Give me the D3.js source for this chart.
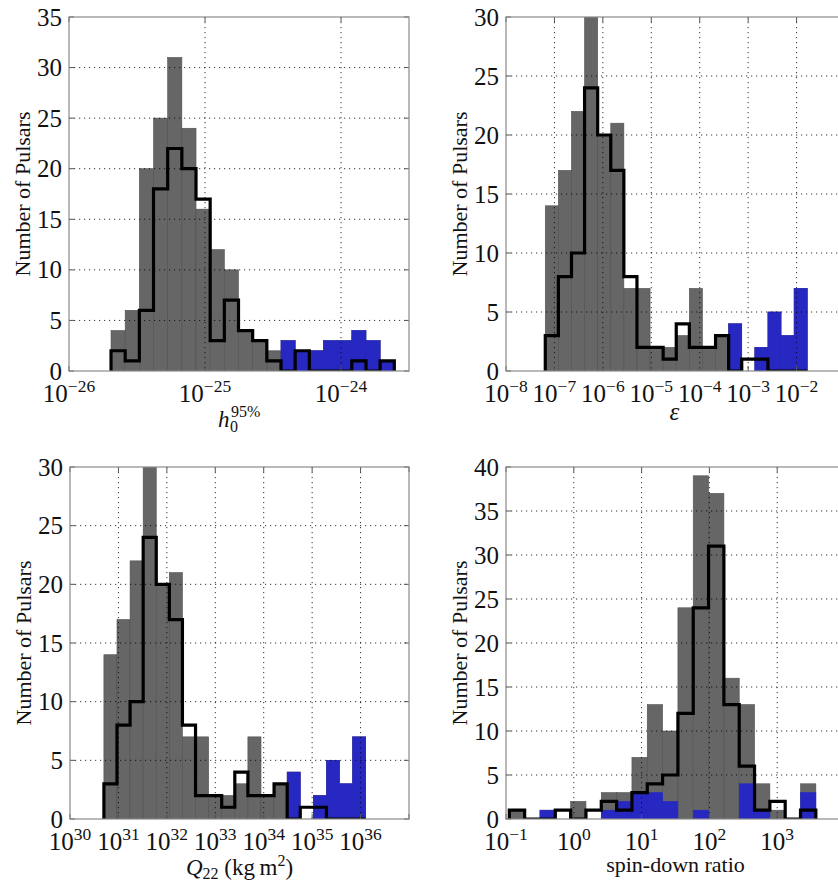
<!DOCTYPE html>
<html>
<head>
<meta charset="utf-8">
<script src="https://cdn.jsdelivr.net/npm/d3@7"></script>
<style>
  body { margin: 0; background: #fff; overflow: hidden; }
  svg { display: block; }
  svg text { font-family: "Liberation Serif", "DejaVu Serif", serif; fill: #111; }
</style>
</head>
<body>
<svg id="chart" width="838" height="882"></svg>
<script>
// histogram data (bin edges in log10, 20 even bins each)
var h0Range = [-25.691, -23.608];
var h0Gray = [4, 6, 20, 25, 31, 24, 16, 12, 10, 4, 3, 2, 3, 2, 2, 3, 3, 4, 3, 1];
var h0Blue = [0, 0, 0, 0, 0, 0, 0, 0, 0, 0, 0, 0, 3, 2, 2, 3, 3, 4, 3, 1];
var h0Step = [2, 1, 6, 18, 22, 20, 17, 3, 7, 4, 3, 1, 0, 2, 0, 0, 0, 1, 0, 1];

var epsRange = [-7.189, -1.780];
var epsGray = [14, 17, 22, 31, 20, 21, 7, 7, 2, 2, 3, 7, 2, 3, 4, 0, 2, 5, 3, 7];
var epsBlue = [0, 0, 0, 0, 0, 0, 0, 0, 0, 0, 0, 0, 0, 0, 4, 0, 2, 5, 3, 7];
var epsStep = [3, 8, 10, 24, 20, 17, 8, 2, 2, 1, 4, 2, 2, 3, 0, 1, 1, 0, 0, 0];

var q22Range = [30.700, 36.106];
var q22Gray = [14, 17, 22, 31, 20, 21, 7, 7, 2, 2, 3, 7, 2, 3, 4, 0, 2, 5, 3, 7];
var q22Blue = [0, 0, 0, 0, 0, 0, 0, 0, 0, 0, 0, 0, 0, 0, 4, 0, 2, 5, 3, 7];
var q22Step = [3, 8, 10, 24, 20, 17, 8, 2, 2, 1, 4, 2, 2, 3, 0, 1, 1, 0, 0, 0];

var sdRange = [-0.951, 3.570];
var sdGray = [1, 0, 1, 0, 2, 0, 3, 3, 7, 13, 10, 24, 39, 37, 16, 13, 4, 1, 0, 4];
var sdBlue = [0, 0, 1, 0, 0, 0, 1, 2, 3, 3, 2, 0, 1, 0, 0, 4, 1, 0, 0, 3];
var sdStep = [1, 0, 0, 1, 0, 1, 2, 1, 3, 4, 5, 12, 24, 31, 13, 6, 1, 2, 0, 1];

// axis limits (log10 decades) and tick labels
var h0Domain = [-26, -23.5], h0Ticks = [-26, -25, -24];
var epsDomain = [-8, -1], epsTicks = [-8, -7, -6, -5, -4, -3, -2];
var q22Domain = [30, 37], q22Ticks = [30, 31, 32, 33, 34, 35, 36];
var sdDomain = [-1, 4], sdTicks = [-1, 0, 1, 2, 3];
var h0YTicks = [0, 5, 10, 15, 20, 25, 30, 35];
var epsYTicks = [0, 5, 10, 15, 20, 25, 30];
var sdYTicks = [0, 5, 10, 15, 20, 25, 30, 35, 40];

var GRAY = "#666666", BLUE = "#2727c2";

var svg = d3.select("#chart");

var panels = [
  { id: "a", box: [69, 409, 17, 371], range: h0Range, gray: h0Gray, blue: h0Blue, step: h0Step,
    domain: h0Domain, ticks: h0Ticks, yTicks: h0YTicks, label: "h0" },
  { id: "b", box: [506, 845, 17, 371], range: epsRange, gray: epsGray, blue: epsBlue, step: epsStep,
    domain: epsDomain, ticks: epsTicks, yTicks: epsYTicks, label: "eps" },
  { id: "c", box: [70, 409, 467, 819], range: q22Range, gray: q22Gray, blue: q22Blue, step: q22Step,
    domain: q22Domain, ticks: q22Ticks, yTicks: epsYTicks, label: "q22" },
  { id: "d", box: [506, 845, 467, 819], range: sdRange, gray: sdGray, blue: sdBlue, step: sdStep,
    domain: sdDomain, ticks: sdTicks, yTicks: sdYTicks, label: "sd" }
];

panels.forEach(function(p) {
  var x0 = p.box[0], x1 = p.box[1], y0 = p.box[2], y1 = p.box[3];
  var x = d3.scaleLog().domain([Math.pow(10, p.domain[0]), Math.pow(10, p.domain[1])]).range([x0, x1]);
  var y = d3.scaleLinear().domain([0, d3.max(p.yTicks)]).range([y1, y0]);

  // bin edges evenly spaced in log
  var n = p.gray.length;
  var edges = d3.range(n + 1).map(function(i) {
    return Math.pow(10, p.range[0] + (p.range[1] - p.range[0]) * i / n);
  });

  svg.append("clipPath").attr("id", "clip-" + p.id)
    .append("rect").attr("x", x0).attr("y", y0).attr("width", x1 - x0).attr("height", y1 - y0);

  var g = svg.append("g").attr("clip-path", "url(#clip-" + p.id + ")");

  // gray = all, blue drawn over it
  p.gray.forEach(function(d, i) {
    if (d <= 0) return;
    g.append("rect")
      .attr("x", x(edges[i])).attr("y", y(d))
      .attr("width", x(edges[i + 1]) - x(edges[i])).attr("height", y(0) - y(d))
      .attr("fill", GRAY).attr("stroke", "#505050").attr("stroke-width", 0.6);
  });
  p.blue.forEach(function(d, i) {
    if (d <= 0) return;
    g.append("rect")
      .attr("x", x(edges[i])).attr("y", y(d))
      .attr("width", x(edges[i + 1]) - x(edges[i])).attr("height", y(0) - y(d))
      .attr("fill", BLUE).attr("stroke", BLUE).attr("stroke-width", 0.6);
  });

  // black step outline
  var pts = [[edges[0], 0]];
  p.step.forEach(function(d, i) {
    pts.push([edges[i], d]);
    pts.push([edges[i + 1], d]);
  });
  pts.push([edges[n], 0]);
  g.append("path")
    .attr("d", d3.line().x(function(d) { return x(d[0]); }).y(function(d) { return y(d[1]); })(pts))
    .attr("fill", "none").attr("stroke", "#000").attr("stroke-width", 3.2)
    .attr("stroke-linejoin", "miter");

  // grid on top, dotted
  var decades = d3.range(Math.ceil(p.domain[0]), Math.floor(p.domain[1]) + 1);
  decades.forEach(function(e) {
    var xv = x(Math.pow(10, e));
    if (xv <= x0 + 0.5 || xv >= x1 - 0.5) return;
    g.append("line").attr("x1", xv).attr("x2", xv).attr("y1", y0).attr("y2", y1)
      .attr("stroke", "#000").attr("stroke-width", 0.8).attr("stroke-dasharray", "1.2,3.8");
  });
  p.yTicks.forEach(function(t) {
    var yv = y(t);
    if (yv <= y0 + 0.5 || yv >= y1 - 0.5) return;
    g.append("line").attr("x1", x0).attr("x2", x1).attr("y1", yv).attr("y2", yv)
      .attr("stroke", "#000").attr("stroke-width", 0.8).attr("stroke-dasharray", "1.2,3.8");
  });

  // inward ticks on all sides
  var tk = svg.append("g").attr("stroke", "#555").attr("stroke-width", 1);
  decades.forEach(function(e) {
    var xv = x(Math.pow(10, e));
    tk.append("line").attr("x1", xv).attr("x2", xv).attr("y1", y1).attr("y2", y1 - 5);
    tk.append("line").attr("x1", xv).attr("x2", xv).attr("y1", y0).attr("y2", y0 + 5);
  });
  p.yTicks.forEach(function(t) {
    tk.append("line").attr("x1", x0).attr("x2", x0 + 5).attr("y1", y(t)).attr("y2", y(t));
    tk.append("line").attr("x1", x1).attr("x2", x1 - 5).attr("y1", y(t)).attr("y2", y(t));
  });

  // frame
  svg.append("rect").attr("x", x0).attr("y", y0).attr("width", x1 - x0).attr("height", y1 - y0)
    .attr("fill", "none").attr("stroke", "#8a8a8a").attr("stroke-width", 1.2);

  // y tick labels
  p.yTicks.forEach(function(t) {
    svg.append("text").attr("x", x0 - 7).attr("y", y(t)).attr("dy", "0.34em")
      .attr("text-anchor", "end").attr("font-size", 25).text(t);
  });

  // x tick labels 10^e
  p.ticks.forEach(function(e) {
    var t = svg.append("text").attr("x", x(Math.pow(10, e))).attr("y", y1 + 31)
      .attr("text-anchor", "middle").attr("font-size", 25);
    t.append("tspan").text("10");
    t.append("tspan").attr("dy", -10).attr("font-size", 17.5)
      .text(String(e).replace("-", "\u2212"));
  });

  // y label
  svg.append("text")
    .attr("transform", "translate(" + (x0 - 39) + "," + ((y0 + y1) / 2) + ") rotate(-90)")
    .attr("text-anchor", "middle").attr("font-size", 22).text("Number of Pulsars");

  // x label
  var cx = (x0 + x1) / 2;
  if (p.label === "h0") {
    svg.append("text").attr("x", cx - 21).attr("y", y1 + 56)
      .attr("font-style", "italic").attr("font-size", 23).text("h");
    svg.append("text").attr("x", cx - 8).attr("y", y1 + 46).attr("font-size", 16).text("95%");
    svg.append("text").attr("x", cx - 9).attr("y", y1 + 61).attr("font-size", 16).text("0");
  } else if (p.label === "eps") {
    svg.append("text").attr("x", cx - 1).attr("y", y1 + 49).attr("text-anchor", "middle")
      .attr("font-style", "italic").attr("font-size", 25).text("\u03b5");
  } else if (p.label === "q22") {
    var q = svg.append("text").attr("x", cx).attr("y", y1 + 56).attr("text-anchor", "middle")
      .attr("font-size", 23);
    q.append("tspan").attr("font-style", "italic").text("Q");
    q.append("tspan").attr("dy", 4).attr("font-size", 16).text("22");
    q.append("tspan").attr("dy", -4).text(" (kg\u2009m");
    q.append("tspan").attr("dy", -9).attr("font-size", 16).text("2");
    q.append("tspan").attr("dy", 9).text(")");
  } else {
    svg.append("text").attr("x", cx).attr("y", y1 + 53).attr("text-anchor", "middle")
      .attr("font-size", 22).text("spin-down ratio");
  }
});
</script>
</body>
</html>
